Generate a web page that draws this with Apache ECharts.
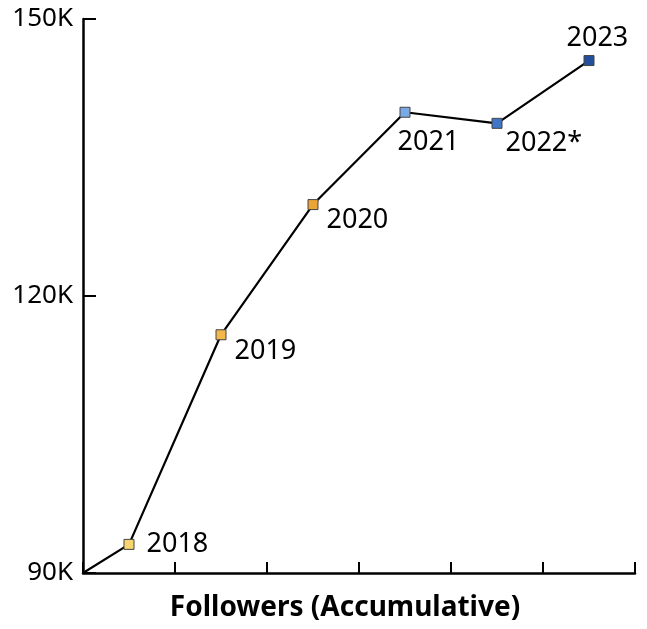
<!DOCTYPE html>
<html>
<head>
<meta charset="utf-8">
<script src="https://cdn.jsdelivr.net/npm/echarts@6/dist/echarts.min.js"></script>
<style>
html,body{margin:0;padding:0;background:#fff;}
#chart{width:647px;height:629px;}
</style>
</head>
<body>
<div id="chart"></div>
<script>
// ---- data ----
const years = ['2018', '2019', '2020', '2021', '2022*', '2023'];
const followers = [93100, 115800, 129900, 139900, 138700, 145500];
const startValue = 90000;           // line begins at axis origin
const yTicks = [90000, 120000, 150000];
const xTitle = 'Followers (Accumulative)';

// ---- styles ----
const markerColors = ['#f8d56e', '#f2b84a', '#eba436', '#78a9e4', '#3f76c8', '#244f9e'];
const labelOffsets = [[18, 0], [14, 17], [14, 16], [-7, 31], [9, 20], [-22, -22]];

const font = '"Noto Sans", "DejaVu Sans", sans-serif';
const chart = echarts.init(document.getElementById('chart'), null, {renderer: 'canvas'});

const seriesData = [{value: [0, startValue], symbol: 'none', label: {show: false}}];
years.forEach((y, i) => {
  seriesData.push({
    value: [i + 0.5, followers[i]],
    name: y,
    itemStyle: {color: markerColors[i], borderColor: '#444', borderWidth: 1},
    label: {
      show: true,
      formatter: y,
      position: [labelOffsets[i][0] + 5, labelOffsets[i][1] + 5],
      align: 'left',
      verticalAlign: 'middle'
    }
  });
});

chart.setOption({
  animation: false,
  backgroundColor: '#fff',
  grid: {left: 83, right: 12, top: 19, bottom: 56},
  xAxis: {
    type: 'value', min: 0, max: years.length, interval: 1,
    axisLine: {show: true, lineStyle: {color: '#000', width: 2.5}},
    axisTick: {show: true, inside: true, length: 11, lineStyle: {color: '#000', width: 2}},
    axisLabel: {show: false},
    splitLine: {show: false}
  },
  yAxis: {
    type: 'value', min: yTicks[0], max: yTicks[yTicks.length - 1], interval: yTicks[1] - yTicks[0],
    axisLine: {show: true, lineStyle: {color: '#000', width: 2.5}},
    axisTick: {show: true, inside: true, length: 13, lineStyle: {color: '#000', width: 2}},
    axisLabel: {
      color: '#000', fontSize: 26, fontFamily: font, margin: 10,
      formatter: v => (v / 1000) + 'K'
    },
    splitLine: {show: false}
  },
  graphic: [{
    type: 'text', x: 345, y: 608,
    style: {text: xTitle, fill: '#000', font: 'bold 28px ' + font, align: 'center', verticalAlign: 'middle'}
  }],
  series: [{
    type: 'line',
    data: seriesData,
    symbol: 'rect',
    symbolSize: 10,
    showAllSymbol: true,
    lineStyle: {color: '#000', width: 2.2},
    label: {color: '#000', fontSize: 27, fontFamily: font},
    z: 3
  }]
});
</script>
</body>
</html>
